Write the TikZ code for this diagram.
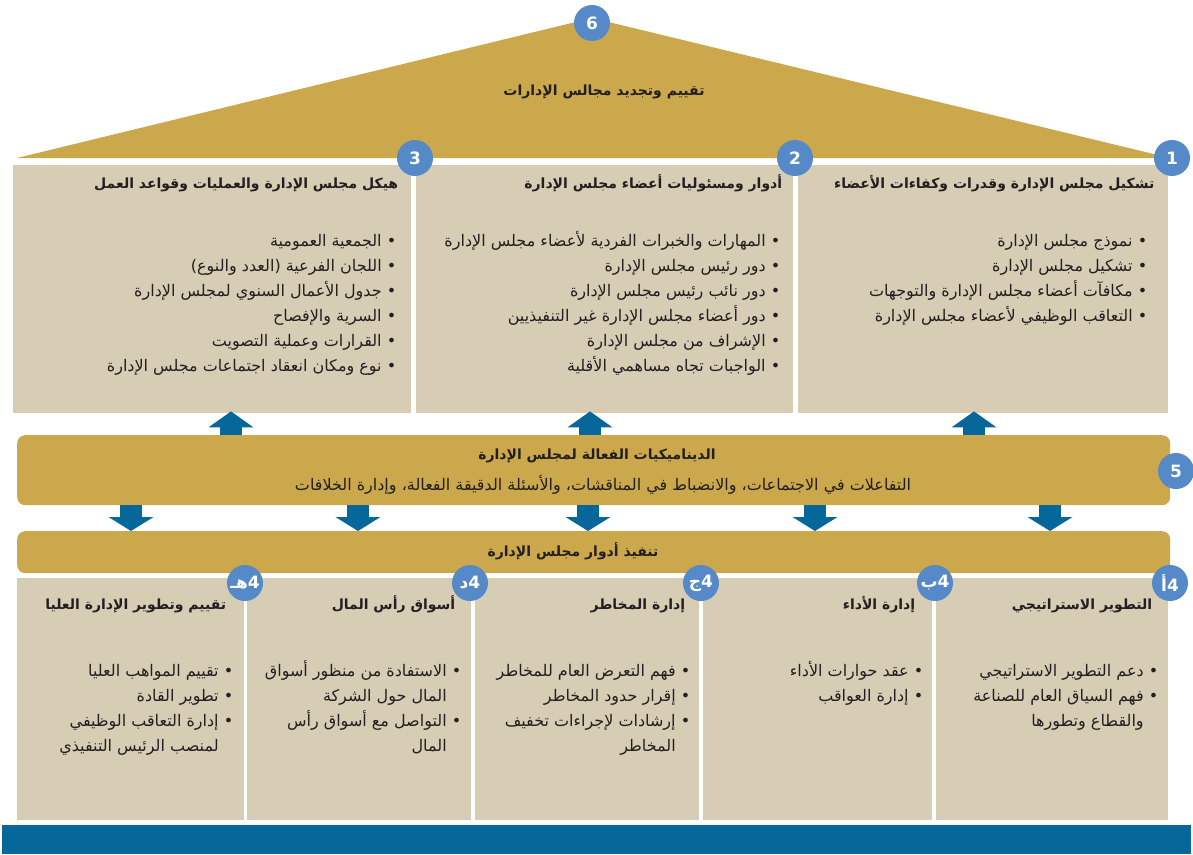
\documentclass[tikz,border=0pt]{standalone}
\usepackage{fontspec}
\setmainfont{DejaVu Sans}
\newfontfamily\arabicfont[Script=Arabic]{DejaVu Sans}
\TeXXeTstate=1
\usetikzlibrary{arrows.meta,positioning}
\definecolor{boardGold}{HTML}{CBA84B}
\definecolor{boardSand}{HTML}{D7CDB5}
\definecolor{boardBlue}{HTML}{5589C8}
\definecolor{boardNavy}{HTML}{05679A}
\definecolor{boardInk}{HTML}{231F20}
\newcommand\rtl[1]{\beginR #1\endR}
\newcommand\hd[1]{\beginR\rule{0pt}{15pt}#1\endR}
\newcommand\itm[1]{\beginR\rule{0pt}{17pt}•\ #1\endR}
\newcommand\cnt[1]{\beginR\rule{0pt}{17pt}\hphantom{•\ }#1\endR}

\begin{document}
\begin{tikzpicture}[x=1pt, y=-1pt, font=\arabicfont, text=boardInk,
  pillar/.style={fill=boardSand, anchor=north west, inner sep=0pt},
  band/.style={fill=boardGold, rounded corners=8pt, anchor=north west, inner sep=0pt},
  badge/.style={circle, fill=boardBlue, minimum size=36pt, inner sep=0pt, text=white,
    font=\arabicfont\bfseries\fontsize{17}{17}\selectfont},
  head/.style={inner sep=0pt, anchor=north east, font=\arabicfont\bfseries\fontsize{14}{16}\selectfont},
  list/.style={inner sep=0pt, anchor=north east, align=right, font=\arabicfont\fontsize{16}{25}\selectfont},
  uparr/.style={boardNavy, line width=22pt, shorten >=-2pt,
    -{Triangle[length=16pt, width=45pt, line width=0pt]}},
  downarr/.style={boardNavy, line width=22pt, -{Triangle[length=14pt, width=45pt, line width=0pt]}}]
\useasboundingbox (0,0) rectangle (1193,854);
% roof
\fill[boardGold] (17,158) -- (592,18) -- (1170,158) -- cycle;
\node[font=\arabicfont\bfseries\fontsize{14}{16}\selectfont] (roof) at (604,92)
  {\rtl{تقييم وتجديد مجالس الإدارات}};
% pillars 3, 2, 1
\node[pillar, minimum width=398pt, minimum height=248pt] (p3) at (13,165) {};
\node[pillar, minimum width=377pt, minimum height=248pt] (p2) at (416,165) {};
\node[pillar, minimum width=370pt, minimum height=248pt] (p1) at (798,165) {};
\node[head, below left=8pt and 14pt of p1.north east] (h1) {\hd{تشكيل مجلس الإدارة وقدرات وكفاءات الأعضاء}};
\node[head, below left=8pt and 11pt of p2.north east] (h2) {\hd{أدوار ومسئوليات أعضاء مجلس الإدارة}};
\node[head, below left=8pt and 13pt of p3.north east] (h3) {\hd{هيكل مجلس الإدارة والعمليات وقواعد العمل}};
\node[list, below left=64pt and 21pt of p1.north east] (l1)
  {\itm{نموذج مجلس الإدارة}\\ \itm{تشكيل مجلس الإدارة}\\
   \itm{مكافآت أعضاء مجلس الإدارة والتوجهات}\\ \itm{التعاقب الوظيفي لأعضاء مجلس الإدارة}};
\node[list, below left=64pt and 13pt of p2.north east] (l2)
  {\itm{المهارات والخبرات الفردية لأعضاء مجلس الإدارة}\\ \itm{دور رئيس مجلس الإدارة}\\
   \itm{دور نائب رئيس مجلس الإدارة}\\ \itm{دور أعضاء مجلس الإدارة غير التنفيذيين}\\
   \itm{الإشراف من مجلس الإدارة}\\ \itm{الواجبات تجاه مساهمي الأقلية}};
\node[list, below left=64pt and 15pt of p3.north east] (l3)
  {\itm{الجمعية العمومية}\\ \itm{اللجان الفرعية (العدد والنوع)}\\
   \itm{جدول الأعمال السنوي لمجلس الإدارة}\\ \itm{السرية والإفصاح}\\
   \itm{القرارات وعملية التصويت}\\ \itm{نوع ومكان انعقاد اجتماعات مجلس الإدارة}};
% dynamics band
\node[band, minimum width=1153pt, minimum height=70pt] (band5) at (17,435) {};
\node[font=\arabicfont\bfseries\fontsize{14}{16}\selectfont] (dyn) at (597,456)
  {\rtl{الديناميكيات الفعالة لمجلس الإدارة}};
\node[font=\arabicfont\fontsize{16}{18}\selectfont] (dynsub) at (603,485)
  {\rtl{التفاعلات في الاجتماعات، والانضباط في المناقشات، والأسئلة الدقيقة الفعالة، وإدارة الخلافات}};
% roles band
\node[band, minimum width=1153pt, minimum height=42pt] (band4) at (17,531) {};
\node[font=\arabicfont\bfseries\fontsize{14}{16}\selectfont] (roles) at (573,551)
  {\rtl{تنفيذ أدوار مجلس الإدارة}};
\foreach \x/\p in {231/p3, 590/p2, 974/p1}
  \draw[uparr] (\x,0 |- band5.north) -- (\x,0 |- \p.south);
\foreach \x in {131,358,588,815,1050}
  \draw[downarr] (\x,0 |- band5.south) -- (\x,0 |- band4.north);
% role pillars 4a ... 4e
\node[pillar, minimum width=232pt, minimum height=242pt] (q1) at (936,578) {};
\node[pillar, minimum width=229pt, minimum height=242pt] (q2) at (703,578) {};
\node[pillar, minimum width=224pt, minimum height=242pt] (q3) at (475,578) {};
\node[pillar, minimum width=224pt, minimum height=242pt] (q4) at (247,578) {};
\node[pillar, minimum width=227pt, minimum height=242pt] (q5) at (17,578) {};
\node[head, below left=16pt and 16pt of q1.north east] (g1) {\hd{التطوير الاستراتيجي}};
\node[head, below left=16pt and 17pt of q2.north east] (g2) {\hd{إدارة الأداء}};
\node[head, below left=16pt and 14pt of q3.north east] (g3) {\hd{إدارة المخاطر}};
\node[head, below left=16pt and 16pt of q4.north east] (g4) {\hd{أسواق رأس المال}};
\node[head, below left=16pt and 18pt of q5.north east] (g5) {\hd{تقييم وتطوير الإدارة العليا}};
\node[list, below left=81pt and 10pt of q1.north east] (k1)
  {\itm{دعم التطوير الاستراتيجي}\\ \itm{فهم السياق العام للصناعة}\\ \cnt{والقطاع وتطورها}};
\node[list, below left=81pt and 9pt of q2.north east] (k2)
  {\itm{عقد حوارات الأداء}\\ \itm{إدارة العواقب}};
\node[list, below left=81pt and 9pt of q3.north east] (k3)
  {\itm{فهم التعرض العام للمخاطر}\\ \itm{إقرار حدود المخاطر}\\
   \itm{إرشادات لإجراءات تخفيف}\\ \cnt{المخاطر}};
\node[list, below left=81pt and 10pt of q4.north east] (k4)
  {\itm{الاستفادة من منظور أسواق}\\ \cnt{المال حول الشركة}\\
   \itm{التواصل مع أسواق رأس}\\ \cnt{المال}};
\node[list, below left=81pt and 11pt of q5.north east] (k5)
  {\itm{تقييم المواهب العليا}\\ \itm{تطوير القادة}\\
   \itm{إدارة التعاقب الوظيفي}\\ \cnt{لمنصب الرئيس التنفيذي}};
% base bar
\fill[boardNavy] (2,825) rectangle (1191,854);
% badges
\node[badge] (b6) at (592,23) {6};
\node[badge] (b3) at (415,158) {3};
\node[badge] (b2) at (795,158) {2};
\node[badge] (b1) at (1172,158) {1};
\node[badge] (b5) at (1176,471) {5};
\node[badge] (b4a) at (1170,583) {\rtl{4\kern0ptأ}};
\node[badge] (b4b) at (935,583) {\rtl{4\kern0ptب}};
\node[badge] (b4c) at (701,583) {\rtl{4\kern0ptج}};
\node[badge] (b4d) at (470,583) {\rtl{4\kern0ptد}};
\node[badge] (b4e) at (245,583) {\rtl{4\kern0ptهـ}};
\end{tikzpicture}
\end{document}
